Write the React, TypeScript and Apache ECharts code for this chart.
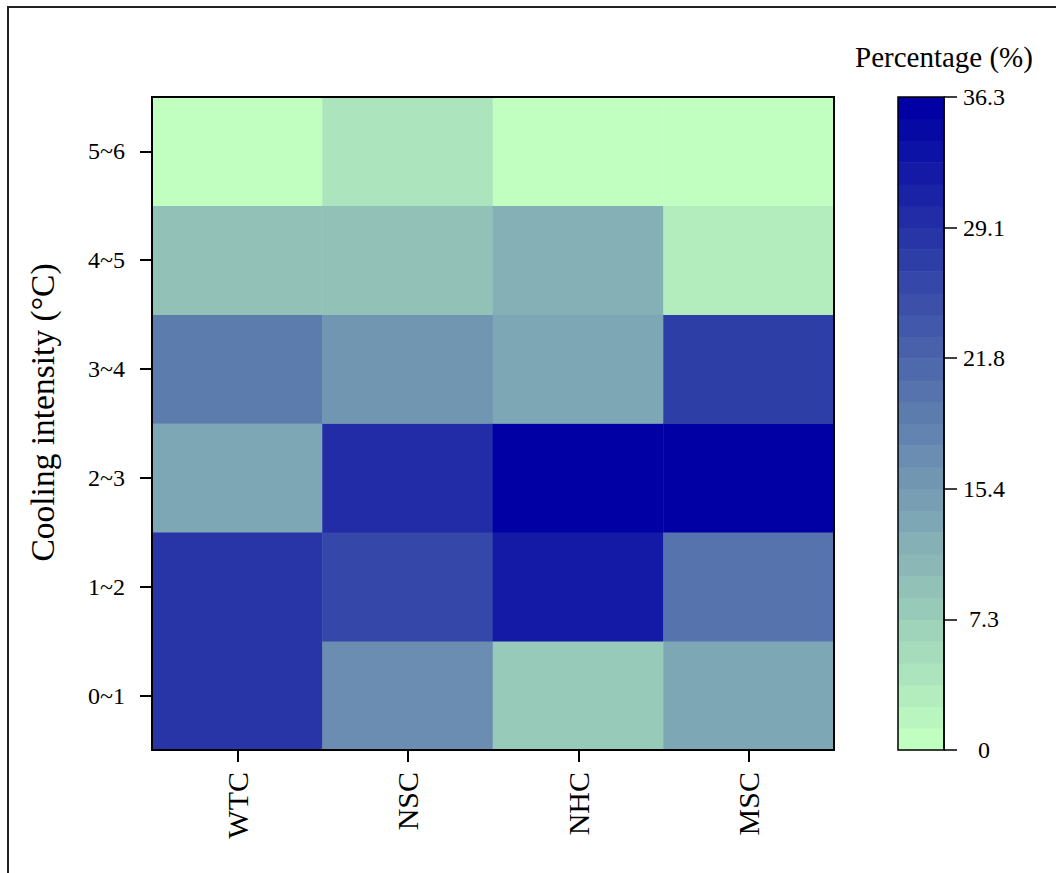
import { useEffect, useRef } from "react";
import * as echarts from "echarts";

// Categories
const sites = ["WTC", "NSC", "NHC", "MSC"];
const intensityBins = ["0~1", "1~2", "2~3", "3~4", "4~5", "5~6"];

// Share (%) of each cooling-intensity bin per site, from 0~1 up to 5~6
const wtc = [28.4, 28.4, 12.7, 18.8, 9.1, 0.6];
const nsc = [16.3, 26.0, 29.6, 15.1, 9.1, 4.2];
const nhc = [7.5, 32.0, 36.3, 12.7, 11.5, 0.0];
const msc = [12.7, 20.0, 36.3, 27.2, 3.0, 0.0];

// Colour bar
const colorbarTicks = ["0", "7.3", "15.4", "21.8", "29.1", "36.3"];
const valueMax = 36.3;
const levelCount = 30;

const FONT = "'Liberation Serif', 'Times New Roman', serif";

// Light green -> deep blue colour ramp
const rampStops: [number, number, number][] = [
  [192, 255, 192],
  [144, 191, 184],
  [96, 128, 175],
  [48, 64, 167],
  [0, 0, 165],
];

function ramp(t: number): string {
  const n = rampStops.length - 1;
  const p = Math.min(Math.max(t, 0), 1) * n;
  const i = Math.min(Math.floor(p), n - 1);
  const f = p - i;
  const a = rampStops[i];
  const b = rampStops[i + 1];
  const c = a.map((v, k) => Math.round(v + (b[k] - v) * f));
  return `rgb(${c[0]},${c[1]},${c[2]})`;
}

export default function App() {
  const ref = useRef<HTMLDivElement>(null);

  useEffect(() => {
    document.body.style.margin = "0";
    if (!ref.current) return;
    const chart = echarts.init(ref.current, undefined, { renderer: "svg" });

    const columns = [wtc, nsc, nhc, msc];
    const cells: number[][] = [];
    columns.forEach((col, i) => col.forEach((v, j) => cells.push([i, j, v])));

    const step = valueMax / levelCount;
    const pieces = Array.from({ length: levelCount }, (_, k) => {
      const piece: any = { gte: k * step, color: ramp(k / (levelCount - 1)) };
      if (k === levelCount - 1) piece.lte = valueMax;
      else piece.lt = (k + 1) * step;
      return piece;
    });
    const levels = Array.from({ length: levelCount }, (_, k) => [
      k * step,
      (k + 1) * step,
      (k + 0.5) * step,
    ]);

    const black = "#000";

    chart.setOption({
      animation: false,
      backgroundColor: "#fff",
      textStyle: { fontFamily: FONT, color: black },
      title: {
        text: "Percentage (%)",
        left: 855,
        top: 42,
        padding: 0,
        textStyle: {
          fontSize: 29,
          fontWeight: "normal",
          color: black,
          fontFamily: FONT,
        },
      },
      graphic: [
        {
          type: "rect",
          x: 8,
          y: 7,
          shape: { x: 0, y: 0, width: 1200, height: 1000 },
          style: { fill: "none", stroke: "#222", lineWidth: 2 },
          silent: true,
        },
      ],
      grid: [
        {
          left: 152,
          top: 97,
          width: 682,
          height: 653,
          show: true,
          z: 10,
          backgroundColor: "transparent",
          borderColor: black,
          borderWidth: 2,
        },
        {
          left: 898,
          top: 97,
          width: 46,
          height: 653,
          show: true,
          z: 10,
          backgroundColor: "transparent",
          borderColor: black,
          borderWidth: 1.5,
        },
      ],
      visualMap: {
        type: "piecewise",
        show: false,
        dimension: 2,
        seriesIndex: [0, 1],
        pieces,
      },
      xAxis: [
        {
          type: "category",
          gridIndex: 0,
          data: sites,
          z: 10,
          axisLine: { show: true, lineStyle: { color: black, width: 2 } },
          axisTick: {
            show: true,
            alignWithLabel: true,
            length: 12,
            lineStyle: { color: black, width: 2 },
          },
          axisLabel: {
            rotate: 90,
            fontSize: 30,
            margin: 22,
            color: black,
            fontFamily: FONT,
          },
          splitLine: { show: false },
        },
        { type: "value", gridIndex: 1, min: 0, max: 1, show: false },
      ],
      yAxis: [
        {
          type: "category",
          gridIndex: 0,
          data: intensityBins,
          z: 10,
          name: "Cooling intensity (°C)",
          nameLocation: "middle",
          nameGap: 93,
          nameTextStyle: {
            fontSize: 33.5,
            color: black,
            fontFamily: FONT,
            padding: [0, 0, 0, 22],
          },
          axisLine: { show: true, lineStyle: { color: black, width: 2 } },
          axisTick: {
            show: true,
            alignWithLabel: true,
            length: 12,
            lineStyle: { color: black, width: 2 },
          },
          axisLabel: { fontSize: 24, margin: 27, color: black, fontFamily: FONT },
          splitLine: { show: false },
        },
        {
          type: "value",
          gridIndex: 1,
          position: "right",
          min: 0,
          max: valueMax,
          interval: valueMax / 5,
          z: 10,
          axisLine: {
            show: true,
            onZero: false,
            lineStyle: { color: black, width: 1.5 },
          },
          axisTick: {
            show: true,
            length: 13,
            lineStyle: { color: black, width: 1.5 },
          },
          axisLabel: {
            align: "center",
            margin: 40,
            fontSize: 24,
            color: black,
            fontFamily: FONT,
            formatter: (v: number) =>
              colorbarTicks[Math.round(v / (valueMax / 5))] ?? "",
          },
          splitLine: { show: false },
        },
      ],
      series: [
        {
          type: "heatmap",
          xAxisIndex: 0,
          yAxisIndex: 0,
          data: cells,
          itemStyle: { borderWidth: 0 },
          emphasis: { disabled: true },
        },
        {
          type: "custom",
          xAxisIndex: 1,
          yAxisIndex: 1,
          data: levels,
          silent: true,
          renderItem: (_params: any, api: any) => {
            const p0 = api.coord([0, api.value(0)]);
            const p1 = api.coord([1, api.value(1)]);
            return {
              type: "rect",
              shape: {
                x: p0[0],
                y: p1[1],
                width: p1[0] - p0[0],
                height: p0[1] - p1[1] + 0.5,
              },
              style: { fill: api.visual("color") },
            };
          },
        },
      ],
    });

    return () => chart.dispose();
  }, []);

  return <div ref={ref} style={{ width: 1056, height: 873 }} />;
}
